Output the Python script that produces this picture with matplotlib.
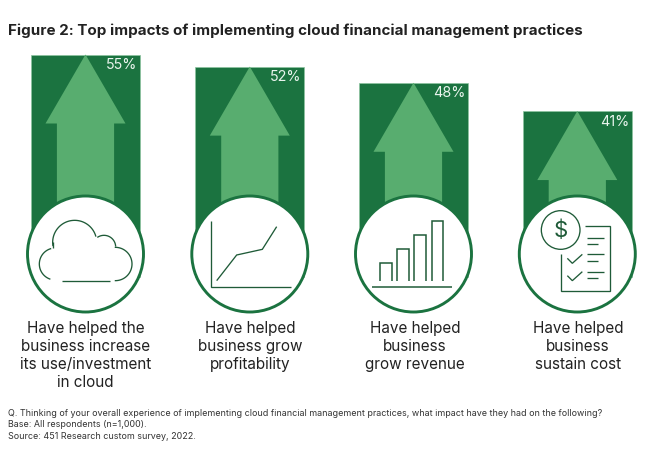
import numpy as np
import matplotlib
matplotlib.use("Agg")
import matplotlib.pyplot as plt
from matplotlib.patches import Circle, Polygon

title = "Figure 2: Top impacts of implementing cloud financial management practices"
values = [55, 52, 48, 41]
labels = ["Have helped the\nbusiness increase\nits use/investment\nin cloud",
          "Have helped\nbusiness grow\nprofitability",
          "Have helped\nbusiness\ngrow revenue",
          "Have helped\nbusiness\nsustain cost"]
notes = ["Q. Thinking of your overall experience of implementing cloud financial management practices, what impact have they had on the following?",
         "Base: All respondents (n=1,000).",
         "Source: 451 Research custom survey, 2022."]

DARK = "#1B7340"
LIGHT = "#58AD6F"
INK = "#1F5B38"
plt.rcParams["font.family"] = ["Inter", "DejaVu Sans"]

W, H = 648, 451
fig = plt.figure(figsize=(W / 100, H / 100), dpi=100)

# Percent axes: x in pixels, y in percentage points
PX_PER_PCT = 4.04
BASE_PX = 276.7
bx = fig.add_axes([0, 0, 1, 1], zorder=1)
bx.set_xlim(0, W)
bx.set_ylim((BASE_PX - H) / PX_PER_PCT, BASE_PX / PX_PER_PCT)
bx.axis("off")

centers = [85.5, 249.8, 413.5, 577.3]
bx.bar(centers, values, width=109, color=DARK, edgecolor="#8CC49F", linewidth=0.5)
head_len = 69 / PX_PER_PCT
for c, v in zip(centers, values):
    bx.add_patch(Polygon([(c, v), (c + 40, v - head_len), (c + 28.6, v - head_len),
                          (c + 28.6, 0), (c - 28.6, 0), (c - 28.6, v - head_len),
                          (c - 40, v - head_len)], closed=True, fc=LIGHT, ec="none"))
    bx.text(c + 52, v - 2.6, f"{v}%", ha="right", va="center", color="#EAF5EE", fontsize=10.3)

# Pixel overlay for the circles, pictograms and text
ax = fig.add_axes([0, 0, 1, 1], zorder=2)
ax.set_xlim(0, W)
ax.set_ylim(H, 0)
ax.axis("off")
ax.patch.set_alpha(0)

CY, R = 254, 58
for c in centers:
    ax.add_patch(Circle((c, CY), R, fc="white", ec=DARK, lw=2.1))

def stroke(xs, ys, ox, oy, lw=0.95):
    ax.plot(np.asarray(xs) / 3 + ox, np.asarray(ys) / 3 + oy, color=INK, lw=lw,
            solid_capstyle="butt", solid_joinstyle="miter")

def arc(cx, cy, r, a0, a1, ox, oy):
    t = np.radians(np.linspace(a0, a1, 50))
    stroke(cx + r * np.cos(t), cy + r * np.sin(t), ox, oy)

# cloud
arc(166, 672, 48, 108, 255, 0, 40)
arc(224, 607, 66, 170, 345, 0, 40)
arc(312, 621, 35, 235, 358, 0, 40)
arc(346, 672, 50, -92, 92, 0, 40)
stroke([158, 158], [625, 607], 0, 40)
stroke([185, 330], [722, 722], 0, 40)

# line chart
stroke([632, 632, 872], [543, 740, 740], 0, 40)
stroke([650, 710, 787, 830], [722, 645, 628, 560], 0, 40)

# column chart
stroke([125, 365], [650, 650], 330, 70, lw=1.1)
for x0, x1, top in [(150, 185, 580), (201, 237, 537), (253, 289, 494), (305, 340, 452)]:
    stroke([x0, x0, x1, x1], [632, top, top, 632], 330, 70, lw=1.1)

# cost document
ax.add_patch(Circle((330 + 692 / 3, 70 + 480 / 3), 58 / 3, fc="none", ec=INK, lw=0.95))
ax.text(330 + 692 / 3, 70 + 481 / 3, "$", ha="center", va="center", color=INK, fontsize=16)
stroke([765, 840, 840, 692, 692], [468, 468, 663, 663, 553], 330, 70)
for y, x1 in [(503, 822), (521, 805), (553, 822), (573, 805), (606, 822), (625, 805)]:
    stroke([770, x1], [y, y], 330, 70)
for dy in (0, 52):
    stroke([712, 727, 757], [565 + dy, 580 + dy, 553 + dy], 330, 70)

# text
ax.text(8, 31, title, ha="left", va="center", fontsize=10.9, fontweight="bold", color="#222222")
label_x = [85.5, 250, 415, 578]
for x, lab in zip(label_x, labels):
    for i, line in enumerate(lab.split("\n")):
        ax.text(x, 328 + 18.2 * i, line, ha="center", va="center", fontsize=11, color="#222222")
for i, n in enumerate(notes):
    ax.text(8, 413 + 11.8 * i, n, ha="left", va="center", fontsize=6.44, color="#333333")

fig.savefig("out.png", dpi=100)
